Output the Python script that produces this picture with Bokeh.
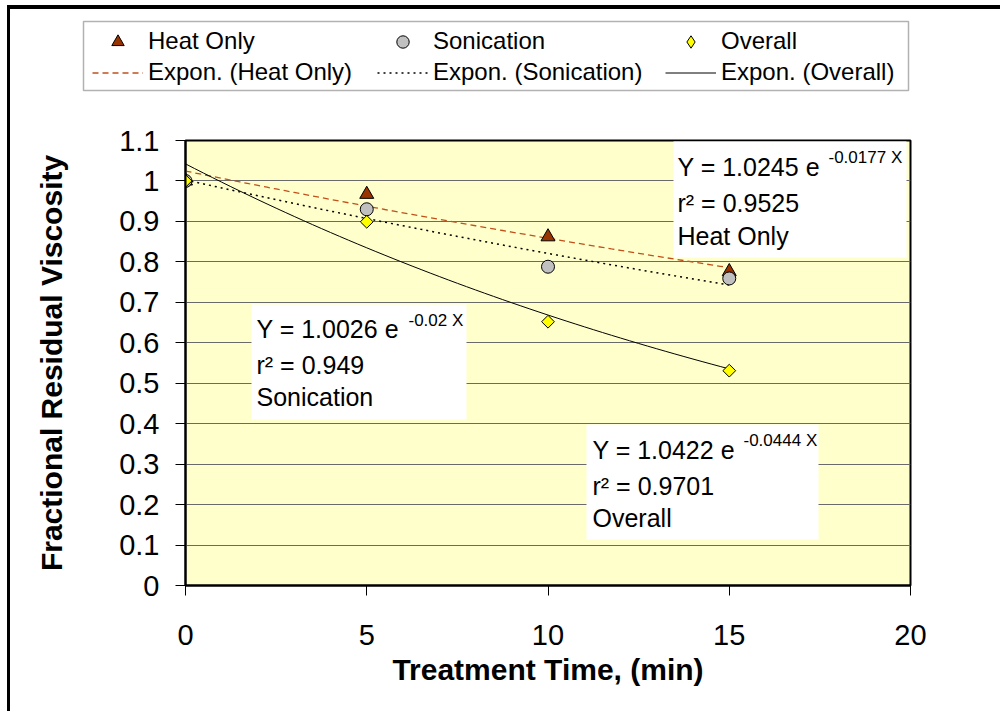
import numpy as np
from bokeh.plotting import figure
from bokeh.layouts import column
from bokeh.models import (Range1d, FixedTicker, Legend, LegendItem, BoxAnnotation, Label,
                          InlineStyleSheet)
from bokeh.embed import file_html
from bokeh.resources import INLINE

# ---- data ----
time_min = [0, 5, 10, 15]
heat_only = [1.0, 0.967, 0.862, 0.776]
sonication = [1.0, 0.930, 0.788, 0.759]
overall = [1.0, 0.899, 0.652, 0.531]

# exponential trendlines shown on the chart: Y = a * e^(b X)
fit_names = ["Heat Only", "Sonication", "Overall"]
fit_a = [1.0245, 1.0026, 1.0422]
fit_b = [-0.0177, -0.02, -0.0444]
fit_r2 = ["0.9525", "0.949", "0.9701"]
fit_a_text = ["1.0245", "1.0026", "1.0422"]
fit_b_text = ["-0.0177", "-0.02", "-0.0444"]

x_ticks = [0, 5, 10, 15, 20]
y_ticks = [0, 0.1, 0.2, 0.3, 0.4, 0.5, 0.6, 0.7, 0.8, 0.9, 1.0, 1.1]
y_tick_labels = ["0", "0.1", "0.2", "0.3", "0.4", "0.5", "0.6", "0.7", "0.8", "0.9", "1", "1.1"]

FONT = "Liberation Sans"
W, H = 1000, 711
TOP_H = 100                      # height of the legend strip
FL, FR, FT, FB = 185, 910, 140, 585   # frame in page pixels
XMAX, YMAX = 20, 1.1

series = [heat_only, sonication, overall]

# series styles
marker_styles = [dict(marker="triangle", size=14, fill_color="#993300", line_color="black"),
                 dict(marker="circle", size=13, fill_color="#C0C0C0", line_color="black"),
                 dict(marker="square", size=9, angle=np.pi / 4, fill_color="#FFFF00",
                      line_color="black")]
legend_marker_styles = [dict(marker="triangle", fill_color="#993300", line_color="black"),
                        dict(marker="circle", fill_color="#C0C0C0", line_color="black"),
                        dict(marker="diamond", fill_color="#FFFF00", line_color="black")]
line_styles = [dict(line_color="#C0501C", line_dash="6 4", line_width=1.3),
               dict(line_color="black", line_dash="2 4", line_width=1.5),
               dict(line_color="black", line_width=1)]

x_fit = np.linspace(0, 15, 61)
fit_curves = [a * np.exp(b * x_fit) for a, b in zip(fit_a, fit_b)]


def dx(px):
    return (px - FL) / (FR - FL) * XMAX


def dy(py):
    return (FB - py) / (FB - FT) * YMAX


def no_frame_align(fig):
    if "frame_align" in fig.properties():
        fig.frame_align = False


# ---------------- legend strip (top of the page) ----------------
top = figure(width=W, height=TOP_H, x_range=Range1d(0, W), y_range=Range1d(0, TOP_H),
             output_backend="svg", toolbar_location=None,
             x_axis_type=None, y_axis_type=None,
             min_border_left=0, min_border_right=0, min_border_top=0, min_border_bottom=0)
no_frame_align(top)
top.grid.visible = False
top.outline_line_color = None
top.background_fill_color = "white"
top.border_fill_color = "white"

# legend frame
top.add_layout(BoxAnnotation(left=83, right=908, top=TOP_H - 21, bottom=TOP_H - 90,
                             fill_alpha=0, line_color="black", line_width=1.5))

# hidden copies of the series that carry the legend key styles
key_markers = [top.scatter(time_min, ys, visible=False, **st)
               for ys, st in zip(series, legend_marker_styles)]
key_lines = [top.line(x_fit, yc, visible=False, **st)
             for yc, st in zip(fit_curves, line_styles)]

col_left = [92, 377, 665]
for i in range(3):
    lg = Legend(items=[LegendItem(label=fit_names[i], renderers=[key_markers[i]]),
                       LegendItem(label="Expon. (" + fit_names[i] + ")", renderers=[key_lines[i]])],
                orientation="vertical", location=(col_left[i], TOP_H - 87.5),
                padding=0, margin=0, spacing=0,
                glyph_width=51, glyph_height=31, label_height=31, label_standoff=5,
                label_text_font=FONT, label_text_font_size="24px", label_text_color="black",
                inactive_fill_alpha=0,
                background_fill_alpha=0, border_line_color=None)
    top.add_layout(lg)

# ---------------- main chart ----------------
p = figure(width=W, height=H - TOP_H, x_range=Range1d(0, XMAX), y_range=Range1d(0, YMAX),
           output_backend="svg", toolbar_location=None,
           min_border_left=FL, min_border_right=W - FR,
           min_border_top=FT - TOP_H, min_border_bottom=H - FB)
no_frame_align(p)
p.background_fill_color = "#FFFFCC"
p.border_fill_color = "white"
p.outline_line_color = "black"
p.outline_line_width = 2

p.xgrid.visible = False
p.ygrid.grid_line_color = "#6a6a6a"
p.ygrid.grid_line_width = 1
p.ygrid.ticker = FixedTicker(ticks=y_ticks)

p.xaxis.ticker = FixedTicker(ticks=x_ticks)
p.yaxis.ticker = FixedTicker(ticks=y_ticks)
p.yaxis.major_label_overrides = {t: s for t, s in zip(y_ticks, y_tick_labels)}
for ax in (p.xaxis, p.yaxis):
    ax.axis_line_color = "black"
    ax.axis_line_width = 2
    ax.major_tick_line_color = "black"
    ax.major_tick_line_width = 1
    ax.major_tick_out = 10
    ax.major_tick_in = 0
    ax.minor_tick_line_color = None
    ax.major_label_text_font = FONT
    ax.major_label_text_font_size = "29px"
    ax.major_label_text_color = "black"
    ax.axis_label_text_font = FONT
    ax.axis_label_text_font_size = "30px"
    ax.axis_label_text_font_style = "bold"
    ax.axis_label_text_color = "black"
p.xaxis.axis_label = "Treatment Time, (min)"
p.yaxis.axis_label = "Fractional Residual Viscosity"
p.yaxis.major_label_standoff = 16
p.xaxis.major_label_standoff = 29
p.yaxis.axis_label_standoff = 48
p.xaxis.axis_label_standoff = 5

# trendlines
for yc, st in zip(fit_curves, line_styles):
    p.line(x_fit, yc, **st)

# data markers
for ys, st in zip(series, marker_styles):
    p.scatter(time_min, ys, line_width=1, **st)

# equation boxes: (left, right, top, bottom) px, text left px, line centres px, superscript pos
boxes = [
    dict(box=(673, 906, 141, 257), tx=677, lines=(166, 202, 235), sx=828, sy=157),
    dict(box=(251, 466, 304, 419), tx=256, lines=(328, 364, 396), sx=408, sy=320),
    dict(box=(586, 818, 424, 539), tx=592, lines=(449, 485, 517), sx=743, sy=440),
]
for k, bx in enumerate(boxes):
    l, rgt, t, bt = bx["box"]
    p.add_layout(BoxAnnotation(left=dx(l), right=dx(rgt), top=dy(t), bottom=dy(bt),
                               fill_color="white", fill_alpha=1, line_color=None))
    texts = ["Y = " + fit_a_text[k] + " e", "r\u00b2 = " + fit_r2[k], fit_names[k]]
    for txt, cy in zip(texts, bx["lines"]):
        p.add_layout(Label(x=dx(bx["tx"]), y=dy(cy), text=txt, text_font=FONT,
                           text_font_size="25px", text_baseline="middle",
                           text_align="left", text_color="black"))
    p.add_layout(Label(x=dx(bx["sx"]), y=dy(bx["sy"]), text=fit_b_text[k] + " X",
                       text_font=FONT, text_font_size="17px", text_baseline="middle",
                       text_align="left", text_color="black"))

# top and left edges of the chart area (decoration only)
css = """
:host { position: relative; }
:host::before {
  content: ""; position: absolute; left: 7px; top: 5px; width: 993px; height: 706px;
  border-top: 4px solid black; border-left: 3px solid black; box-sizing: border-box;
  pointer-events: none; z-index: 5;
}
"""
page = column(top, p, spacing=0, stylesheets=[InlineStyleSheet(css=css)])

open("out.html", "w").write(file_html(page, INLINE))
